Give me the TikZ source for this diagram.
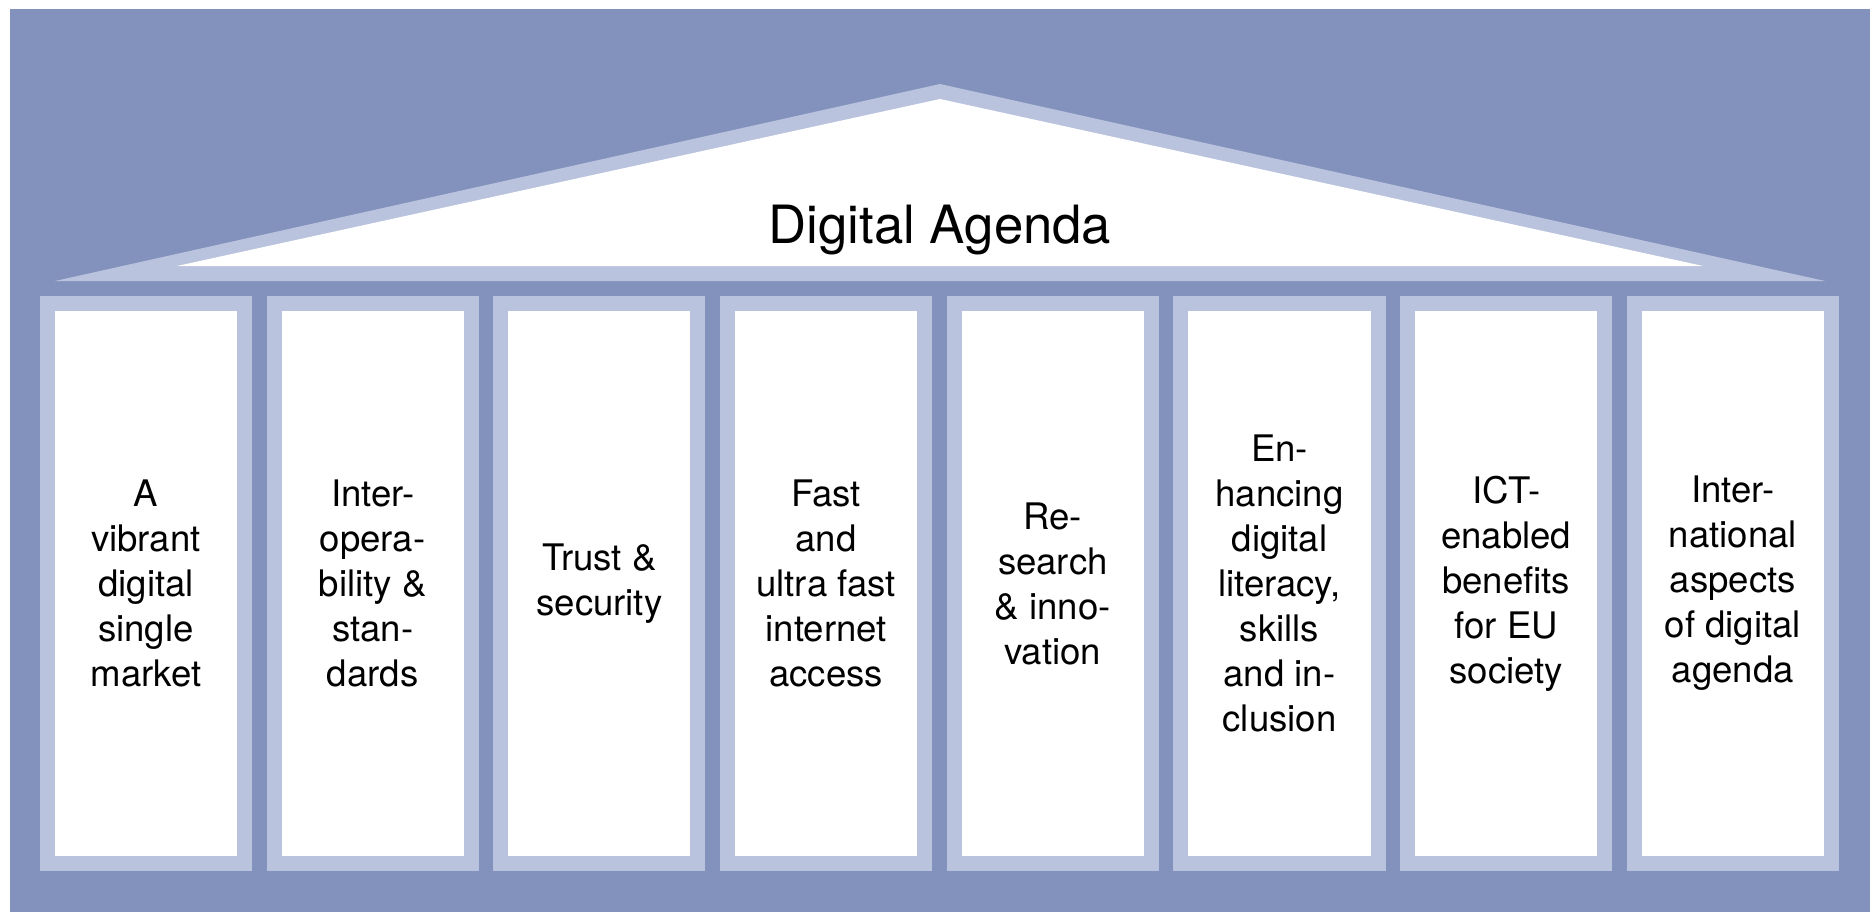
\documentclass[tikz,border=0pt]{standalone}
\usepackage{fontspec}
\setmainfont{TeX Gyre Heros}
\usepackage{xcolor}
\usepackage{tikz}
\definecolor{agendabg}{RGB}{131,145,189}
\definecolor{agendalight}{RGB}{185,195,221}

\begin{document}
\begin{tikzpicture}[x=0.01cm,y=-0.01cm,
    pillar/.style={draw=agendalight,line width=0.15cm,fill=white,minimum width=1.97cm,minimum height=5.6cm,inner sep=0pt,align=center,font=\fontsize{10.4}{12.8}\selectfont}]
    \useasboundingbox (0,0) rectangle (1870,912);
    \fill[agendabg] (10,9) rectangle (1870,912);
    % roof
    \fill[agendalight] (55,281) -- (940,84) -- (1825,281) -- cycle;
    \fill[white] (177,266) -- (940,99) -- (1703,266) -- cycle;
    \node[font=\fontsize{15}{18}\selectfont,anchor=base] (title) at (940,243) {Digital Agenda};
    % pillars
    \foreach \i/\txt in {1/{A\\vibrant\\digital\\single\\market},
        2/{Inter-\\opera-\\bility \&\\stan-\\dards},
        3/{Trust \&\\security},
        4/{Fast\\and\\ultra fast\\internet\\access},
        5/{Re-\\search\\\& inno-\\vation},
        6/{En-\\hancing\\digital\\literacy,\\skills\\and in-\\clusion},
        7/{ICT-\\enabled\\benefits\\for EU\\society},
        8/{Inter-\\national\\aspects\\of digital\\agenda}}
      \node[pillar] (p\i) at (146+226.7*\i-226.7,583.5) {\txt};
\end{tikzpicture}
\end{document}
